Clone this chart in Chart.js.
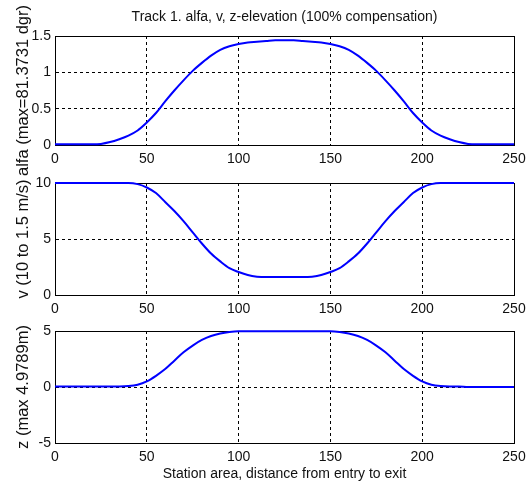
<!DOCTYPE html>
<html lang="en">
<head>
<meta charset="UTF-8">
<title>Track 1 - alfa, v, z-elevation</title>
<script src="https://cdn.jsdelivr.net/npm/chart.js"></script>
<style>
  body { margin: 0; background: #fff; }
  #wrap { position: relative; width: 526px; height: 486px; }
  canvas { position: absolute; left: 0; top: 0; }
</style>
</head>
<body>
<div id="wrap">
  <canvas id="alfa" width="526" height="486"></canvas>
  <canvas id="vel" width="526" height="486"></canvas>
  <canvas id="elev" width="526" height="486"></canvas>
</div>
<script>
// station positions (distance from entry), read every 5 units
const station = [0,5,10,15,20,25,30,35,40,45,50,55,60,65,70,75,80,85,90,95,100,
  105,110,115,120,125,130,135,140,145,150,155,160,165,170,175,180,185,190,195,200,
  205,210,215,220,225,230,235,240,245,250];

const alfa = [0.01,0.01,0.01,0.01,0.01,0.015,0.04,0.08,0.13,0.2,0.31,0.44,0.6,0.75,0.89,1.02,1.13,1.23,1.31,1.36,1.39,
  1.41,1.42,1.43,1.44,1.44,1.44,1.43,1.42,1.41,1.39,1.36,1.31,1.23,1.13,1.02,0.89,0.75,0.6,0.44,0.31,
  0.2,0.13,0.08,0.04,0.015,0.01,0.01,0.01,0.01,0.01];

const speed = [10,10,10,10,10,10,10,10,10,9.9,9.6,9.1,8.3,7.5,6.6,5.6,4.6,3.7,3.0,2.4,2.05,
  1.78,1.64,1.6,1.6,1.6,1.6,1.6,1.64,1.78,2.05,2.4,3.0,3.7,4.6,5.6,6.6,7.5,8.3,9.1,9.6,
  9.9,10,10,10,10,10,10,10,10,10];

const elevation = [0.05,0.05,0.05,0.05,0.05,0.05,0.05,0.05,0.08,0.2,0.5,1.0,1.6,2.35,3.1,3.7,4.2,4.55,4.78,4.92,4.98,
  4.98,4.98,4.98,4.98,4.98,4.98,4.98,4.98,4.98,4.98,4.92,4.78,4.55,4.2,3.7,3.1,2.35,1.6,1.0,0.5,
  0.2,0.08,0.05,0.05,0,0,0,0,0,0];

const xTicks = [0, 50, 100, 150, 200, 250];
const alfaTicks = [0, 0.5, 1, 1.5];
const speedTicks = [0, 5, 10];
const elevTicks = [-5, 0, 5];

// use the narrow Liberation face if it is installed (MATLAB text looks condensed)
function hasFont(name) {
  const c = document.createElement('canvas').getContext('2d');
  const s = 'Station area 0123456789';
  c.font = '20px monospace';
  const base = c.measureText(s).width;
  c.font = '20px "' + name + '", monospace';
  return c.measureText(s).width !== base;
}
const narrow = hasFont('Liberation Sans Narrow');
const family = narrow ? '"Liberation Sans Narrow", "Liberation Sans", Arial, sans-serif'
                      : '"Liberation Sans", Arial, sans-serif';
const textSize = narrow ? 17 : 14;
const lineH = textSize * 1.2;

Chart.defaults.font.family = family;
Chart.defaults.font.size = textSize;
Chart.defaults.color = '#111';

// black box round the axes, drawn under the curve
const frame = {
  id: 'frame',
  beforeDatasetsDraw(chart) {
    const a = chart.chartArea;
    const ctx = chart.ctx;
    ctx.save();
    ctx.strokeStyle = '#000';
    ctx.lineWidth = 1;
    ctx.strokeRect(Math.round(a.left) + 0.5, Math.round(a.top) + 0.5,
                   Math.round(a.right - a.left), Math.round(a.bottom - a.top));
    ctx.restore();
  }
};

const AX_LEFT = 55, AX_RIGHT = 514, Y_W = 45;

function makePlot(id, values, yTicks, yTitle, top, bottom, extra) {
  extra = extra || {};
  const xH = extra.xTitle ? 40 : 22;
  const titleOn = !!extra.title;
  const pts = station.map((s, i) => ({ x: s, y: values[i] }));

  return new Chart(document.getElementById(id), {
    type: 'line',
    data: {
      datasets: [{
        data: pts,
        borderColor: '#0000ff',
        borderWidth: 2,
        pointRadius: 0,
        cubicInterpolationMode: 'monotone',
        clip: false
      }]
    },
    plugins: [frame],
    options: {
      responsive: false,
      animation: false,
      events: [],
      layout: {
        padding: {
          left: AX_LEFT - Y_W,
          right: 526 - AX_RIGHT,
          top: titleOn ? 0 : top,
          bottom: 486 - bottom - xH
        }
      },
      plugins: {
        legend: { display: false },
        tooltip: { enabled: false },
        title: {
          display: titleOn,
          text: extra.title || '',
          fullSize: false,
          color: '#111',
          font: { size: textSize, weight: 'normal' },
          padding: { top: 9, bottom: top - 9 - lineH }
        }
      },
      scales: {
        x: {
          type: 'linear',
          min: 0,
          max: 250,
          afterBuildTicks: s => { s.ticks = xTicks.map(v => ({ value: v })); },
          afterFit: s => { s.height = xH; s.paddingLeft = 0; s.paddingRight = 0; },
          ticks: { padding: narrow ? 4 : 6, maxRotation: 0, autoSkip: false, callback: v => String(v) },
          grid: { color: '#000', lineWidth: 1, drawTicks: false },
          border: { display: true, color: '#000', dash: [3, 3] },
          title: {
            display: !!extra.xTitle,
            text: extra.xTitle || '',
            color: '#111',
            padding: { top: 0, bottom: 0 }
          }
        },
        y: {
          type: 'linear',
          min: yTicks[0],
          max: yTicks[yTicks.length - 1],
          afterBuildTicks: s => { s.ticks = yTicks.map(v => ({ value: v })); },
          afterFit: s => { s.width = Y_W; s.paddingTop = 0; s.paddingBottom = 0; },
          ticks: { padding: 4, callback: v => String(v) },
          grid: { color: '#000', lineWidth: 1, drawTicks: false },
          border: { display: true, color: '#000', dash: [3, 3] },
          title: {
            display: true,
            text: yTitle,
            color: '#111',
            font: { family: '"Liberation Sans", Arial, sans-serif', size: 16.5 },
            padding: { top: 4, bottom: 0 }
          }
        }
      }
    }
  });
}

makePlot('alfa', alfa, alfaTicks, 'alfa (max=81.3731 dgr)', 36, 145,
  { title: 'Track 1. alfa, v, z-elevation (100% compensation)' });
makePlot('vel', speed, speedTicks, 'v (10 to 1.5 m/s)', 183, 295);
makePlot('elev', elevation, elevTicks, 'z (max 4.9789m)', 331, 443,
  { xTitle: 'Station area, distance from entry to exit' });
</script>
</body>
</html>
